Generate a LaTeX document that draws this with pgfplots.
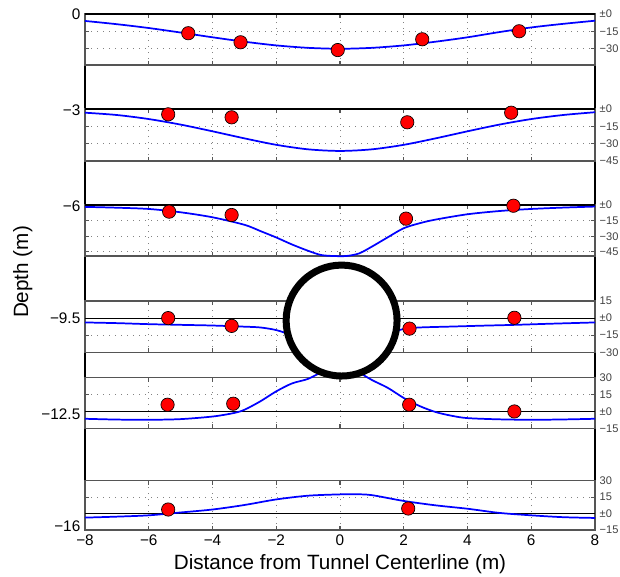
\documentclass[border=0pt]{standalone}
\usepackage{fontspec}
\setmainfont{Liberation Sans}
\usepackage{pgfplots}
\pgfplotsset{compat=1.18}

\definecolor{frame}{RGB}{85,85,85}
\definecolor{gridc}{RGB}{130,130,130}

\pgfplotsset{
  panel/.style={
    anchor=north west, scale only axis, width=382.5pt,
    xmin=-8, xmax=8, clip=false,
    axis line style={draw=frame, line width=1pt},
    xtick={-8,-6,...,8}, xticklabels={},
    tick align=inside, major tick length=3pt,
    every tick/.style={draw=frame, line width=0.8pt},
    xmajorgrids, ymajorgrids,
    grid style={gridc, line width=0.6pt, dash pattern=on 0.6pt off 3.9pt},
    yticklabel pos=right,
    yticklabel style={font=\fontsize{8.3}{9}\selectfont, text=black!75},
  },
  zero/.style={black, line width=0.8pt},
  fit/.style={blue, line width=1.3pt, smooth},
  pts/.style={only marks, mark=*, mark size=5pt,
    mark options={fill=red, draw=black, line width=0.5pt}},
}

\begin{document}
\begin{tikzpicture}
\path[use as bounding box] (0,0) rectangle (465pt,-432.75pt);

% main depth axis
\begin{axis}[
  anchor=north west, at={(63.75pt,-10.5pt)},
  scale only axis, width=382.5pt, height=387pt,
  xmin=-8, xmax=8, ymin=-16.125, ymax=0,
  axis line style={black, line width=1pt},
  major tick length=0pt,
  xtick={-8,-6,...,8},
  xticklabels={−8,−6,−4,−2,0,2,4,6,8},
  ytick={-16,-12.5,-9.5,-6,-3,0},
  yticklabels={−16,−12.5,−9.5,−6,−3,0},
  tick label style={font=\fontsize{11.5}{12}\selectfont},
  xlabel={Distance from Tunnel Centerline (m)},
  ylabel={Depth (m)},
  label style={font=\fontsize{15.5}{16}\selectfont},
]
\end{axis}

% panel at 0 m
\begin{axis}[panel, at={(63.75pt,-10.5pt)}, height=38.25pt,
  ymin=-44, ymax=0, ytick={-30,-15,0}, yticklabels={−30,−15,±0}]
\addplot[zero] coordinates {(-8,0) (8,0)};
\addplot[fit] coordinates {
  (-8,-6.0) (-7,-8.8) (-6,-12.1) (-5,-16.0) (-4,-20.1) (-3,-23.9)
  (-2,-27.1) (-1,-29.2) (0,-30.0) (1,-29.2) (2,-27.1) (3,-23.9)
  (4,-20.1) (5,-15.6) (6,-11.6) (7,-8.5) (8,-5.8)};
\addplot[pts] coordinates {
  (-4.76,-16.6) (-3.12,-24.4) (-0.07,-31.1) (2.58,-21.8) (5.62,-14.9)};
\end{axis}

% panel at -3 m
\begin{axis}[panel, at={(63.75pt,-81.75pt)}, height=39pt,
  ymin=-45, ymax=0, ytick={-45,-30,-15,0}, yticklabels={−45,−30,−15,±0}]
\addplot[zero] coordinates {(-8,0) (8,0)};
\addplot[fit] coordinates {
  (-8,-3.2) (-7,-5.2) (-6,-8.7) (-5,-13.5) (-4,-19.3) (-3,-25.4)
  (-2,-31.0) (-1,-34.9) (0,-36.3) (1,-34.9) (2,-31.0) (3,-25.4)
  (4,-19.3) (5,-13.5) (6,-8.7) (7,-5.2) (8,-2.8)};
\addplot[pts] coordinates {
  (-5.39,-4.6) (-3.40,-7.2) (2.11,-11.5) (5.37,-3.2)};
\end{axis}

% panel at -6 m
\begin{axis}[panel, at={(63.75pt,-153.75pt)}, height=38.25pt,
  ymin=-49, ymax=0, ytick={-45,-30,-15,0}, yticklabels={−45,−30,−15,±0}]
\addplot[zero] coordinates {(-8,0) (8,0)};
\addplot[fit] coordinates {
  (-8,-1.8) (-7,-2.6) (-6,-3.8) (-5,-7.0) (-4,-11.8) (-3,-19.0)
  (-2.5,-25.0) (-2,-31.2) (-1.5,-38.0) (-1,-44.0) (-0.6,-48.0)
  (-0.2,-49.0) (0.2,-49.0) (0.6,-46.5) (1,-40.0) (1.5,-31.0)
  (2,-22.3) (2.5,-17.5) (3,-14.0) (4,-8.9) (5,-5.8) (6,-3.8)
  (7,-2.5) (8,-1.5)};
\addplot[pts] coordinates {
  (-5.36,-6.4) (-3.40,-9.6) (2.07,-13.1) (5.44,-0.7)};
\end{axis}

% panel at -9.5 m
\begin{axis}[panel, at={(63.75pt,-225.75pt)}, height=38.5pt,
  ymin=-30, ymax=15, ytick={-30,-15,0,15}, yticklabels={−30,−15,±0,15}]
\addplot[zero] coordinates {(-8,0) (8,0)};
\addplot[fit] coordinates {
  (-8,-3.8) (-7,-4.4) (-6,-5.3) (-5,-5.9) (-4,-6.5) (-3,-7.5)
  (-2.5,-8.2) (-2,-10.5) (-1.5,-15.0) (-1,-20.0) (0,-22.0) (1,-20.0)
  (1.5,-14.0) (2,-9.5) (2.5,-8.2) (3.5,-7.4) (4.5,-6.6) (5.5,-5.9)
  (6.5,-5.0) (8,-3.8)};
\addplot[pts] coordinates {
  (-5.39,0.0) (-3.40,-6.8) (2.18,-9.2) (5.47,0.3)};
\end{axis}

% panel at -12.5 m
\begin{axis}[panel, at={(63.75pt,-283.3pt)}, height=37.95pt,
  ymin=-15, ymax=30, ytick={-15,0,15,30}, yticklabels={−15,±0,15,30}]
\addplot[zero] coordinates {(-8,0) (8,0)};
\addplot[fit] coordinates {
  (-8,-6.5) (-7,-7.2) (-6,-7.4) (-5,-6.8) (-4,-4.5) (-3.35,-1.5)
  (-3,1.5) (-2.5,9.0) (-2,17.9) (-1.5,25.0) (-1,29.0) (-0.5,36.0)
  (0,40.0) (0.5,36.0) (1,28.0) (1.5,21.0) (2,12.0) (2.5,4.8)
  (3,-0.5) (3.5,-3.8) (4,-5.9) (5,-7.0) (6,-7.4) (7,-7.1) (8,-6.5)};
\addplot[pts] coordinates {
  (-5.41,6.0) (-3.35,6.9) (2.17,6.0) (5.47,0.0)};
\end{axis}

% panel at -16 m
\begin{axis}[panel, at={(63.75pt,-360.5pt)}, height=37pt,
  ymin=-15, ymax=30, ytick={-15,0,15,30}, yticklabels={−15,±0,15,30}]
\addplot[zero] coordinates {(-8,0) (8,0)};
\addplot[fit] coordinates {
  (-8,-3.7) (-7,-2.8) (-6,-1.6) (-5,1.0) (-4,3.7) (-3,7.8) (-2,12.9)
  (-1,16.3) (0,17.5) (0.5,17.6) (1,16.8) (2,11.5) (3,7.5) (4,4.4)
  (5,0.6) (6,-1.6) (7,-3.3) (8,-4.0)};
\addplot[pts] coordinates {(-5.39,3.7) (2.14,4.6)};
\end{axis}

% tunnel outline on top
\begin{axis}[
  anchor=north west, at={(63.75pt,-10.5pt)},
  scale only axis, width=382.5pt, height=387pt,
  xmin=-8, xmax=8, ymin=-16.125, ymax=0,
  hide axis, clip=false]
\addplot[only marks, mark=*, mark size=41.6pt,
  mark options={fill=white, draw=black, line width=5.25pt}]
  coordinates {(0.05,-9.58)};
\end{axis}
\end{tikzpicture}
\end{document}
